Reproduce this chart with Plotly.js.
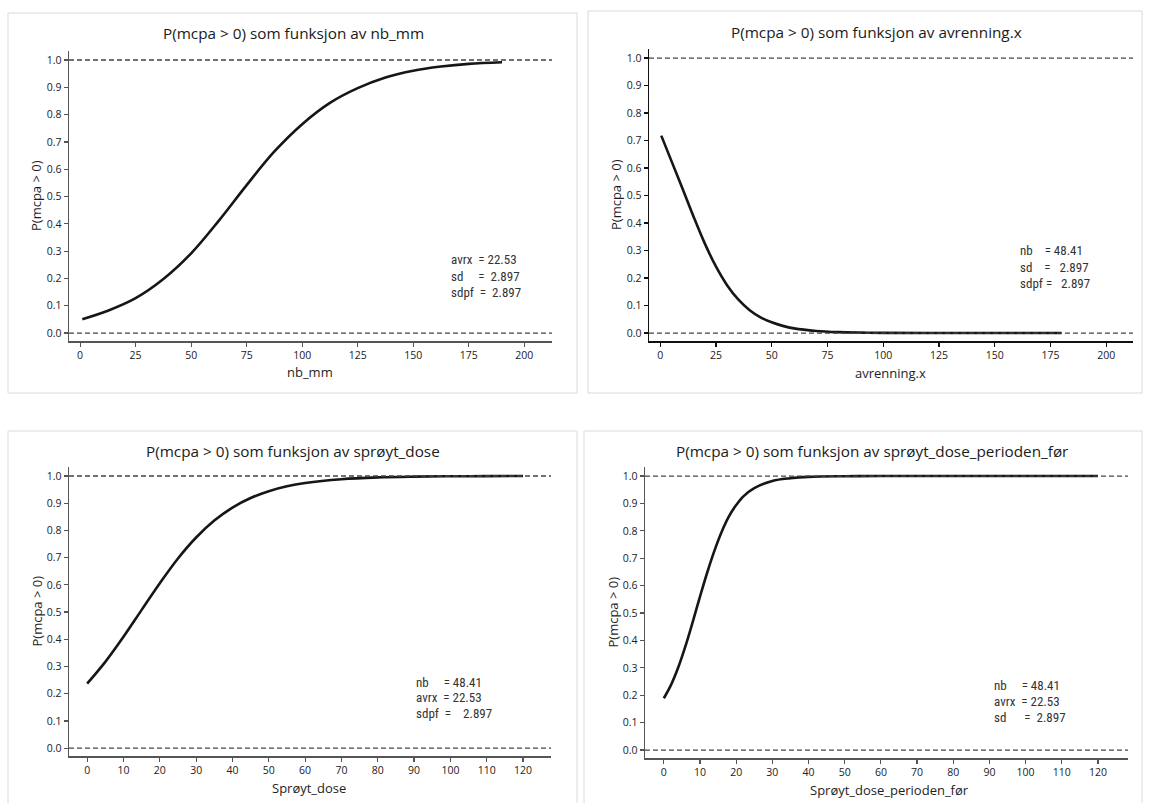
<!DOCTYPE html>
<html>
<head>
<meta charset="utf-8">
<script src="https://cdn.plot.ly/plotly-3.0.1.min.js"></script>
<style>html,body{margin:0;padding:0;background:#fff;}#chart{width:1149px;height:803px;}</style>
</head>
<body>
<div id="chart"></div>
<script>
// ---- data ----
const nbX  = [1, 12.5, 25, 37.5, 50, 62.5, 75, 87.5, 100, 112.5, 125, 137.5, 150, 162.5, 175, 190];
const nbP  = [0.051, 0.082, 0.128, 0.198, 0.292, 0.412, 0.542, 0.665, 0.765, 0.843, 0.897, 0.936, 0.961, 0.976, 0.986, 0.992];

const avrX = [0.5, 5, 10, 15, 20, 25, 30, 35, 40, 45, 50, 55, 60, 70, 80, 90, 100, 120, 150, 180];
const avrP = [0.718, 0.627, 0.526, 0.423, 0.326, 0.242, 0.174, 0.122, 0.084, 0.057, 0.039, 0.026, 0.017, 0.0076, 0.0033, 0.0015, 0.0006, 0.0001, 0, 0];

const doseX = [0, 5, 10, 15, 20, 25, 30, 35, 40, 45, 50, 55, 60, 70, 80, 90, 100, 110, 120];
const doseP = [0.237, 0.317, 0.409, 0.508, 0.606, 0.697, 0.774, 0.836, 0.884, 0.919, 0.944, 0.962, 0.974, 0.988, 0.9947, 0.9976, 0.9989, 0.9995, 0.9998];

const forX = [0, 2, 4, 6, 8, 10, 12, 14, 16, 18, 20, 22, 25, 30, 35, 40, 50, 60, 80, 100, 120];
const forP = [0.189, 0.238, 0.302, 0.38, 0.468, 0.56, 0.648, 0.728, 0.797, 0.853, 0.894, 0.926, 0.956, 0.982, 0.992, 0.997, 0.9995, 1.0, 1.0, 1.0, 1.0];

const titles = [
  "P(mcpa > 0) som funksjon av nb_mm",
  "P(mcpa > 0) som funksjon av avrenning.x",
  "P(mcpa > 0) som funksjon av sprøyt_dose",
  "P(mcpa > 0) som funksjon av sprøyt_dose_perioden_før"
];
const xTitles = ["nb_mm", "avrenning.x", "Sprøyt_dose", "Sprøyt_dose_perioden_før"];
const yTitle = "P(mcpa > 0)";
const stats = [
  ["avrx  = 22.53", "sd     =  2.897", "sdpf  =  2.897"],
  ["nb    = 48.41", "sd    =   2.897", "sdpf =   2.897"],
  ["nb     = 48.41", "avrx  = 22.53", "sdpf  =    2.897"],
  ["nb     = 48.41", "avrx  = 22.53", "sd      =  2.897"]
];
const yTickVals = [0, 0.1, 0.2, 0.3, 0.4, 0.5, 0.6, 0.7, 0.8, 0.9, 1.0];

// ---- layout geometry (pixels) ----
const W = 1149, H = 803;
const fx = p => p / W;
const fy = p => 1 - p / H;

const panels = [
  {box:[8,13,577,393],   xd:[69,552],   yd:[51,341],  xr:[-5,212.5], dtick:25, title:[293,33],  xt:[310,372], yt:36,  st:[449,[260,276,292]], axc:"#555"},
  {box:[588,11,1142,393],xd:[649,1133], yd:[49,341],  xr:[-5,212],   dtick:25, title:[876,32],  xt:[890,373], yt:616, st:[1018,[251,267,283]], axc:"#111"},
  {box:[8,431,577,806],  xd:[69,551],   yd:[467,756], xr:[-5,127.7], dtick:10, title:[293,451], xt:[309,788], yt:36,  st:[414,[682,697,713]], axc:"#555"},
  {box:[584,431,1142,806],xd:[645,1128],yd:[467,758], xr:[-5.2,128.3],dtick:10,title:[872,451], xt:[889,790], yt:612, st:[992,[685,701,717]], axc:"#555"}
];
const series = [[nbX,nbP],[avrX,avrP],[doseX,doseP],[forX,forP]];

const traces = [];
const layout = {
  width: W, height: H,
  margin: {l:0, r:0, t:0, b:0},
  paper_bgcolor: "#fff", plot_bgcolor: "#fff",
  showlegend: false,
  font: {family: "Open Sans, Noto Sans, sans-serif", color: "#222"},
  shapes: [], annotations: []
};

panels.forEach((p, i) => {
  const n = i + 1;
  const xa = "x" + (n === 1 ? "" : n), ya = "y" + (n === 1 ? "" : n);
  traces.push({
    x: series[i][0], y: series[i][1], type: "scatter", mode: "lines",
    line: {color: "#161616", width: 2.6, shape: "spline", smoothing: 1},
    xaxis: xa, yaxis: ya, hoverinfo: "x+y"
  });
  layout["xaxis" + (n === 1 ? "" : n)] = {
    domain: [fx(p.xd[0]), fx(p.xd[1])], range: p.xr, anchor: ya,
    showgrid: false, zeroline: false, showline: true, linecolor: p.axc, linewidth: 1.5,
    ticks: "outside", ticklen: 4, tickcolor: p.axc, tickwidth: 1.2,
    tick0: 0, dtick: p.dtick, tickfont: {size: 10.5, color: "#222"}, fixedrange: true
  };
  layout["yaxis" + (n === 1 ? "" : n)] = {
    domain: [fy(p.yd[1]), fy(p.yd[0])], range: [-0.029, 1.033], anchor: xa,
    showgrid: false, zeroline: false, showline: true, linecolor: p.axc, linewidth: 1.5,
    ticks: "outside", ticklen: 4, tickcolor: p.axc, tickwidth: 1.2,
    tickvals: yTickVals, tickformat: ".1f", tickfont: {size: 10.5, color: "#222"}, fixedrange: true
  };
  // panel border
  layout.shapes.push({type:"rect", xref:"paper", yref:"paper",
    x0: fx(p.box[0]), x1: fx(p.box[2]), y0: fy(p.box[3]), y1: fy(p.box[1]),
    line:{color:"#dadada", width:1}, fillcolor:"rgba(0,0,0,0)", layer:"below"});
  // dashed reference lines at 0 and 1
  [0, 1].forEach(v => layout.shapes.push({type:"line", xref: xa + " domain", yref: ya,
    x0: 0, x1: 1, y0: v, y1: v, line:{color:"#444", width:1.3, dash:"5px,3px"}}));
  // panel title
  layout.annotations.push({text: titles[i], xref:"paper", yref:"paper",
    x: fx(p.title[0]), y: fy(p.title[1]), xanchor:"center", yanchor:"middle", showarrow:false,
    font:{size:15.3, color:"#1a1a1a", family:"Open Sans, sans-serif"}});
  // axis titles
  layout.annotations.push({text: xTitles[i], xref:"paper", yref:"paper",
    x: fx(p.xt[0]), y: fy(p.xt[1]), xanchor:"center", yanchor:"middle", showarrow:false,
    font:{size:13, color:"#1e1e1e"}});
  layout.annotations.push({text: yTitle, xref:"paper", yref:"paper", textangle:-90,
    x: fx(p.yt), y: fy((p.yd[0] + p.yd[1]) / 2), xanchor:"center", yanchor:"middle", showarrow:false,
    font:{size:13, color:"#1e1e1e"}});
  // stats text
  stats[i].forEach((s, k) => layout.annotations.push({text: s.replace(/ /g, "\u00a0"),
    xref:"paper", yref:"paper", x: fx(p.st[0]), y: fy(p.st[1][k]), xanchor:"left", yanchor:"middle",
    showarrow:false, font:{size:13, color:"#333", family:"Liberation Sans Narrow, Roboto Condensed, Roboto, sans-serif"}}));
});

Plotly.newPlot("chart", traces, layout, {displayModeBar: false, staticPlot: true});
</script>
</body>
</html>
